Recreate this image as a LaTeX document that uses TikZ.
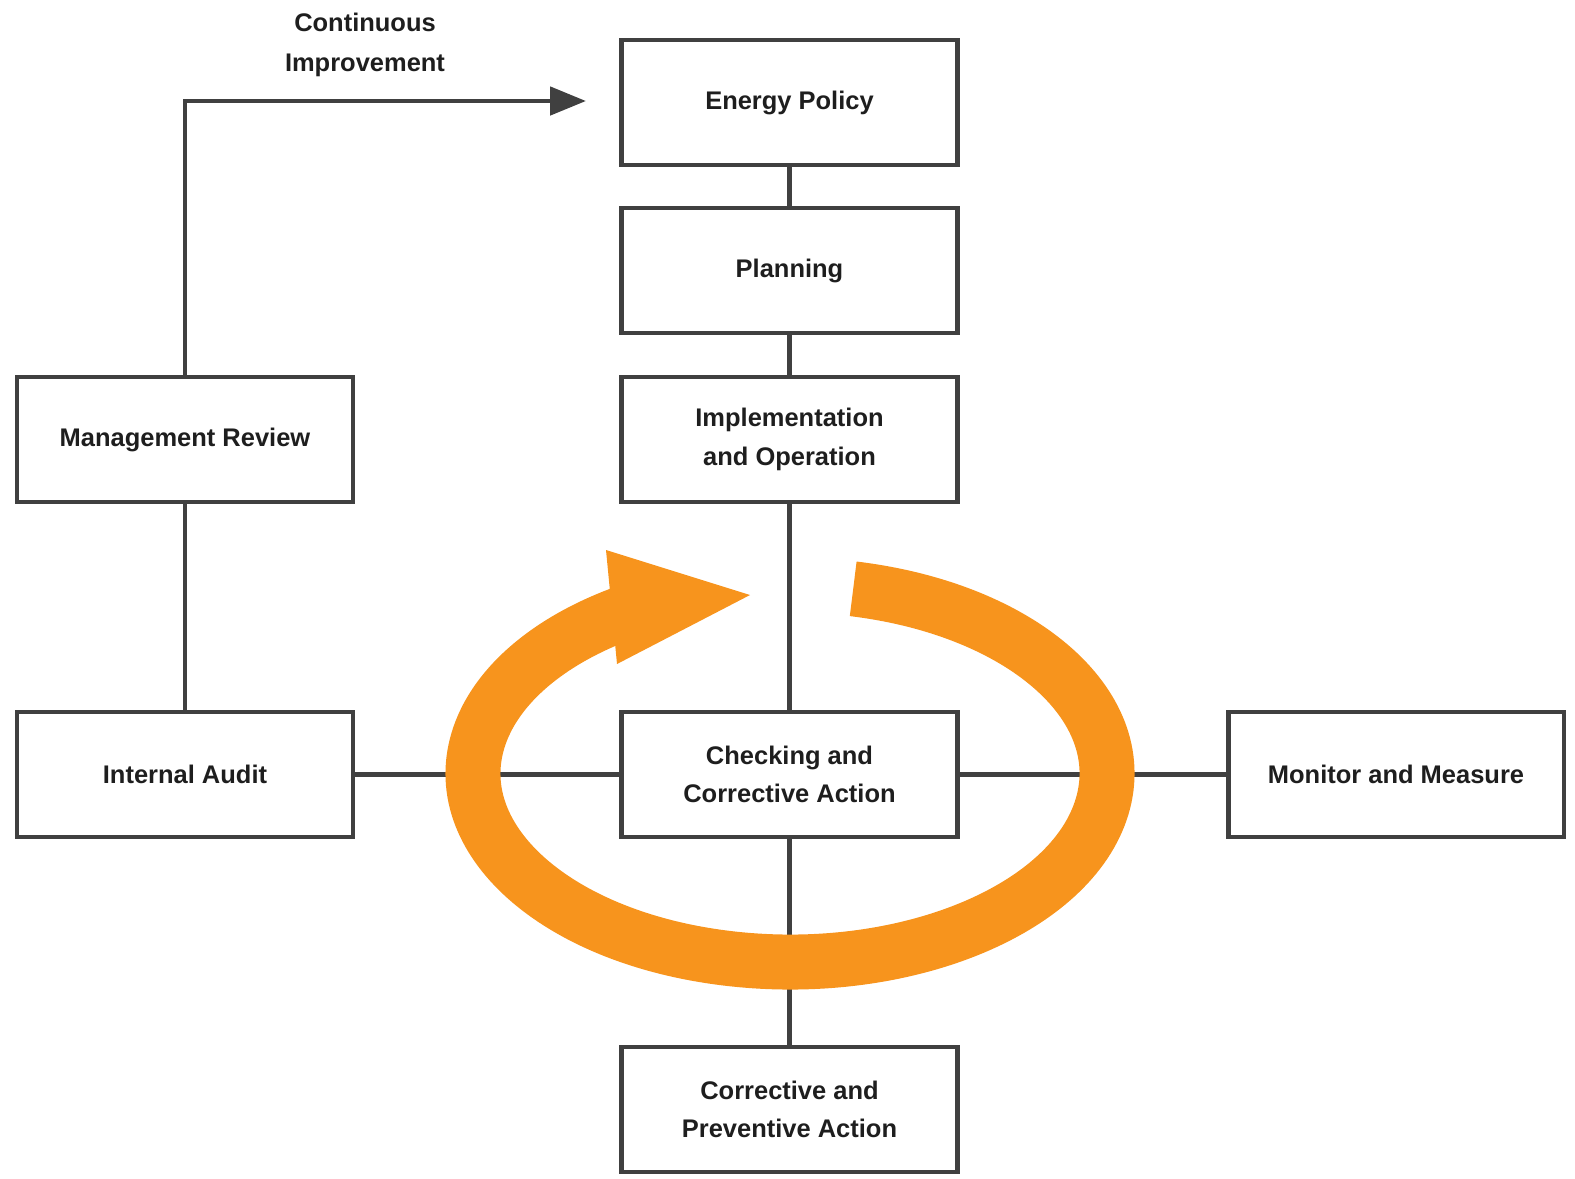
\documentclass[tikz,border=0pt]{standalone}
\usepackage{fontspec}
\setmainfont{Liberation Sans}
\usetikzlibrary{arrows.meta}

\definecolor{boxgray}{HTML}{404040}
\definecolor{ringorange}{HTML}{F7941D}
\definecolor{txtgray}{HTML}{1E1E1E}

\tikzset{
  stagebox/.style={draw=boxgray, line width=2.8pt, minimum width=6.72cm, minimum height=2.5cm,
    align=center, text=txtgray, font=\fontsize{14.5}{22}\selectfont\bfseries},
  link/.style={draw=boxgray, line width=2.8pt},
}

\begin{document}
\begin{tikzpicture}[x=0.02cm, y=-0.02cm]
\useasboundingbox (0,0) rectangle (1575,1178);

\node[stagebox] at (789.5,102.5) (policy) {Energy Policy};
\node[stagebox] at (789.5,270.5) (planning) {Planning};
\node[stagebox] at (789.5,439.5) (impl) {Implementation\\and Operation};
\node[stagebox] at (185,439.5) (mgmt) {Management Review};
\node[stagebox] at (185,774.5) (audit) {Internal Audit};
\node[stagebox] at (789.5,774.5) (check) {Checking and\\Corrective Action};
\node[stagebox] at (1396,774.5) (monitor) {Monitor and Measure};
\node[stagebox] at (789.5,1109.5) (corrective) {Corrective and\\Preventive Action};

\node[text=txtgray, align=center, font=\fontsize{14.5}{22.7}\selectfont\bfseries] at (365,45) (cilabel) {Continuous\\Improvement};
\coordinate (ciend) at (586,101);

\draw[link] (policy) -- (planning);
\draw[link] (planning) -- (impl);
\draw[link] (impl) -- (check);
\draw[link] (check) -- (corrective);
\draw[link] (audit) -- (check);
\draw[link] (check) -- (monitor);
\draw[link] (mgmt) -- (audit);
\draw[link, -{Triangle[length=0.72cm, width=0.56cm]}] (mgmt.north) |- (ciend);

\draw[ringorange, line width=1.1cm] (853.2,588.8) arc[start angle=-78.5, end angle=245, x radius=317, y radius=188.5];
\fill[ringorange] (606,550) -- (750,595) -- (617,664) -- cycle;

\end{tikzpicture}
\end{document}
